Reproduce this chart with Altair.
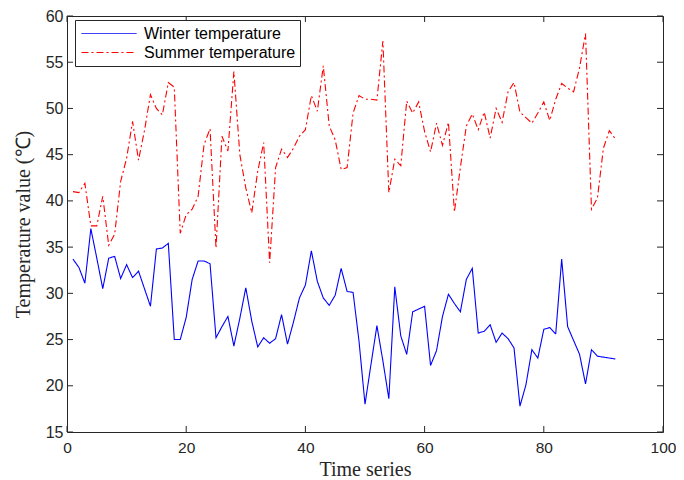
import altair as alt
import pandas as pd

# ---- data ----
time_index = list(range(1, 93))

winter = [33.7, 32.8, 31.1, 37.0, 33.8, 30.5, 33.8, 34.0, 31.6, 33.1,
          31.7, 32.4, 30.5, 28.6, 34.8, 34.9, 35.4, 25.0, 25.0, 27.4,
          31.5, 33.5, 33.5, 33.2, 25.2, 26.4, 27.5, 24.3, 27.3, 30.6,
          27.0, 24.2, 25.2, 24.6, 25.1, 27.7, 24.5, 26.9, 29.5, 30.9,
          34.6, 31.3, 29.5, 28.7, 29.8, 32.7, 30.2, 30.1, 24.8, 18.0,
          22.3, 26.5, 22.7, 18.6, 30.7, 25.4, 23.4, 28.0, 28.3, 28.6,
          22.2, 23.8, 27.5, 29.9, 28.9, 28.0, 31.5, 32.7, 25.7, 25.9,
          26.6, 24.7, 25.7, 25.1, 24.1, 17.8, 20.1, 23.9, 23.0, 26.1,
          26.3, 25.6, 33.7, 26.4, 24.9, 23.4, 20.2, 23.9, 23.2, 23.1,
          23.0, 22.9]

summer = [41.0, 40.9, 41.9, 37.3, 37.3, 40.5, 35.2, 36.4, 42.1, 44.6,
          48.6, 44.4, 47.6, 51.5, 50.0, 49.3, 52.8, 52.3, 36.5, 38.5,
          39.1, 40.5, 46.1, 47.8, 34.9, 47.0, 45.4, 54.0, 45.0, 41.4,
          38.7, 43.2, 46.3, 33.3, 43.6, 45.6, 44.7, 45.7, 47.0, 47.7,
          51.4, 49.7, 54.6, 48.1, 46.6, 43.4, 43.6, 49.5, 51.4, 51.0,
          51.0, 50.9, 57.3, 40.9, 44.5, 43.8, 50.8, 49.5, 50.7, 47.5,
          45.3, 48.4, 46.0, 48.5, 38.8, 43.6, 48.1, 49.4, 47.7, 49.6,
          46.8, 50.0, 48.5, 51.8, 52.8, 49.6, 49.0, 48.4, 49.5, 50.7,
          48.7, 51.0, 52.7, 52.2, 51.8, 54.4, 58.1, 39.1, 40.3, 45.7,
          47.6, 46.7]

series_names = ["Winter temperature", "Summer temperature"]
series_colors = ["#0000ff", "#ff0000"]
x_ticks = [0, 20, 40, 60, 80, 100]
y_ticks = [15, 20, 25, 30, 35, 40, 45, 50, 55, 60]

# ---- layout ----
W, H = 596, 416
TICK = 6
AXIS_COLOR = "#262626"

df = pd.DataFrame({
    "t": time_index + time_index,
    "v": winter + summer,
    "s": [series_names[0]] * len(winter) + [series_names[1]] * len(summer),
})
xt_df = pd.DataFrame({"t": x_ticks})
yt_df = pd.DataFrame({"v": y_ticks})

x_scale = alt.Scale(domain=[0, 100], nice=False, zero=False)
y_scale = alt.Scale(domain=[15, 60], nice=False, zero=False)

leg = alt.Legend(
    title=None, orient="none", legendX=8, legendY=4,
    symbolType="stroke", symbolSize=3025, symbolStrokeWidth=1,
    clipHeight=19, labelFont="Liberation Sans", labelFontSize=16,
    labelColor="#000000", strokeColor=AXIS_COLOR, fillColor="white",
    padding=4, symbolOffset=2, labelOffset=7, rowPadding=0,
    cornerRadius=0,
)

lines = alt.Chart(df).mark_line(strokeWidth=1.1).encode(
    x=alt.X("t:Q", scale=x_scale,
            axis=alt.Axis(values=x_ticks, title="Time series",
                          labelPadding=8, titlePadding=4, labelFontSize=15.5)),
    y=alt.Y("v:Q", scale=y_scale,
            axis=alt.Axis(values=y_ticks, title="Temperature value (℃)",
                          labelPadding=4, titlePadding=12)),
    color=alt.Color("s:N", scale=alt.Scale(domain=series_names, range=series_colors),
                    legend=leg),
    strokeDash=alt.StrokeDash("s:N",
                              scale=alt.Scale(domain=series_names,
                                              range=[[1, 0], [7, 3, 2, 3]]),
                              legend=leg),
)

tick_style = dict(color=AXIS_COLOR, thickness=1, size=TICK, opacity=1)

tick_bottom = alt.Chart(xt_df).mark_tick(orient="vertical", yOffset=-TICK / 2,
                                         **tick_style).encode(
    x=alt.X("t:Q", scale=x_scale), y=alt.datum(15))
tick_top = alt.Chart(xt_df).mark_tick(orient="vertical", yOffset=TICK / 2,
                                      **tick_style).encode(
    x=alt.X("t:Q", scale=x_scale), y=alt.datum(60))
tick_left = alt.Chart(yt_df).mark_tick(orient="horizontal", xOffset=TICK / 2,
                                       **tick_style).encode(
    y=alt.Y("v:Q", scale=y_scale), x=alt.datum(0))
tick_right = alt.Chart(yt_df).mark_tick(orient="horizontal", xOffset=-TICK / 2,
                                        **tick_style).encode(
    y=alt.Y("v:Q", scale=y_scale), x=alt.datum(100))

chart = alt.layer(lines, tick_bottom, tick_top, tick_left, tick_right).properties(
    width=W, height=H,
    autosize=alt.AutoSizeParams(type="none"),
    padding={"left": 59, "top": 8, "right": 13, "bottom": 48},
    background="white",
).configure_view(
    stroke=AXIS_COLOR, strokeWidth=1,
).configure_axis(
    domain=False, ticks=False, grid=False,
    labelFont="Liberation Sans", labelFontSize=16, labelColor=AXIS_COLOR,
    labelFlush=False, labelOverlap=False,
    titleFont="Liberation Serif", titleFontSize=20, titleFontWeight="normal",
    titleColor=AXIS_COLOR,
)

chart.save("out.html", embed_options={"renderer": "svg", "actions": False})
